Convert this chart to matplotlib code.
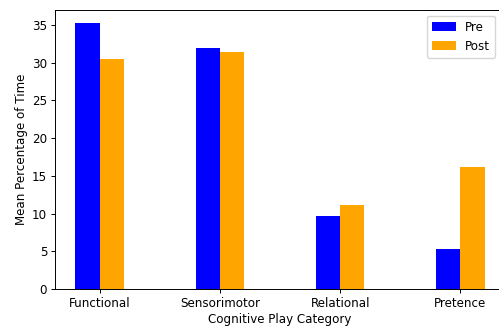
import matplotlib
matplotlib.use("Agg")
import matplotlib.pyplot as plt
import numpy as np

categories = ["Functional", "Sensorimotor", "Relational", "Pretence"]
pre = [35.3, 32.0, 9.7, 5.3]
post = [30.5, 31.4, 11.1, 16.2]

fs = 8.6
fig = plt.figure(figsize=(4.99, 3.27), dpi=100)
ax = fig.add_axes([55/499, 1-289/327, 450/499, 279/327])
x = np.arange(len(categories))
w = 0.2
ax.bar(x - w/2, pre, w, color="blue", label="Pre")
ax.bar(x + w/2, post, w, color="orange", label="Post")
ax.set_xticks(x)
ax.set_xticklabels(categories, fontsize=fs)
ax.tick_params(axis="both", labelsize=fs, length=2.8, pad=2.8, width=0.7)
for s in ax.spines.values():
    s.set_linewidth(0.7)
ax.set_xlabel("Cognitive Play Category", fontsize=fs, labelpad=2.5)
ax.set_ylabel("Mean Percentage of Time", fontsize=fs, labelpad=3)
ax.set_ylim(0, 37)
ax.set_xlim(-0.37, 3.37)
ax.legend(loc="upper right", fontsize=fs, bbox_to_anchor=(446/450, 1), borderaxespad=0.5)
fig.savefig("out.png", dpi=100)
